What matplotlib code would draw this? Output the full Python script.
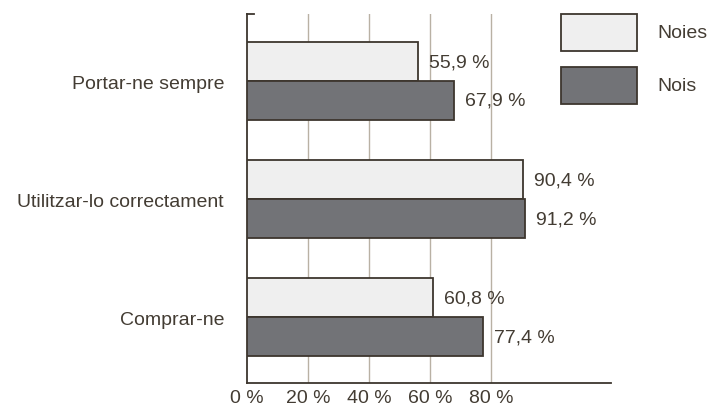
import numpy as np
import matplotlib
matplotlib.use('Agg')
import matplotlib.pyplot as plt
from matplotlib.patches import Rectangle

# data
categories = ['Portar-ne sempre', 'Utilitzar-lo correctament', 'Comprar-ne']
noies = [55.9, 90.4, 60.8]
nois = [67.9, 91.2, 77.4]
series_names = ['Noies', 'Nois']
xticks = [0, 20, 40, 60, 80]
xtick_labels = ['0 %', '20 %', '40 %', '60 %', '80 %']

light = '#efefef'
dark = '#727377'
edge = '#3d362e'
grid_col = '#b9b1a4'
text_col = '#433c33'
fs = 14

plt.rcParams['font.family'] = ['Liberation Sans', 'DejaVu Sans']

fig = plt.figure(figsize=(7.09, 4.10), dpi=100)
ax = fig.add_axes([247 / 709, 1 - 384 / 410, (611 - 247) / 709, (384 - 15) / 410])

y = np.arange(len(categories))
h = 0.33
ax.barh(y - h / 2, noies, height=h, color=light, edgecolor=edge, linewidth=1.3, zorder=3)
ax.barh(y + h / 2, nois, height=h, color=dark, edgecolor=edge, linewidth=1.3, zorder=3)

for yi, v in zip(y, noies):
    ax.annotate(f'{v:.1f} %'.replace('.', ','), (v, yi - h / 2), xytext=(8, 0),
                textcoords='offset points', va='center', ha='left', fontsize=fs, color=text_col)
for yi, v in zip(y, nois):
    ax.annotate(f'{v:.1f} %'.replace('.', ','), (v, yi + h / 2), xytext=(8, 0),
                textcoords='offset points', va='center', ha='left', fontsize=fs, color=text_col)

ax.set_xlim(0, 119.3)
ax.set_ylim(2.559, -0.568)

for t in xticks[1:]:
    ax.axvline(t, color=grid_col, linewidth=1.0, zorder=1)

ax.set_xticks(xticks)
ax.set_xticklabels(xtick_labels, fontsize=fs, color=text_col)
ax.set_yticks(y)
ax.set_yticklabels(categories, fontsize=fs, color=text_col)
ax.tick_params(axis='both', length=0)
ax.tick_params(axis='x', pad=4.5)
ax.tick_params(axis='y', pad=16.5)

for s in ['top', 'right']:
    ax.spines[s].set_visible(False)
for s in ['left', 'bottom']:
    ax.spines[s].set_color(edge)
    ax.spines[s].set_linewidth(1.3)

# little tick at top of left spine
ax.plot([0, 0.018], [1, 1], transform=ax.transAxes, color=edge, linewidth=1.3, clip_on=False)

# legend boxes drawn in figure pixels
for i, (name, col) in enumerate(zip(series_names, [light, dark])):
    top = 15 + i * 53
    fig.patches.append(Rectangle((561 / 709, 1 - (top + 37) / 410), 76 / 709, 37 / 410,
                                 transform=fig.transFigure, facecolor=col, edgecolor=edge,
                                 linewidth=1.3))
    fig.text(657 / 709, 1 - (top + 18.5) / 410, name, va='center', ha='left',
             fontsize=fs, color=text_col)

fig.savefig('out.png', dpi=100)
